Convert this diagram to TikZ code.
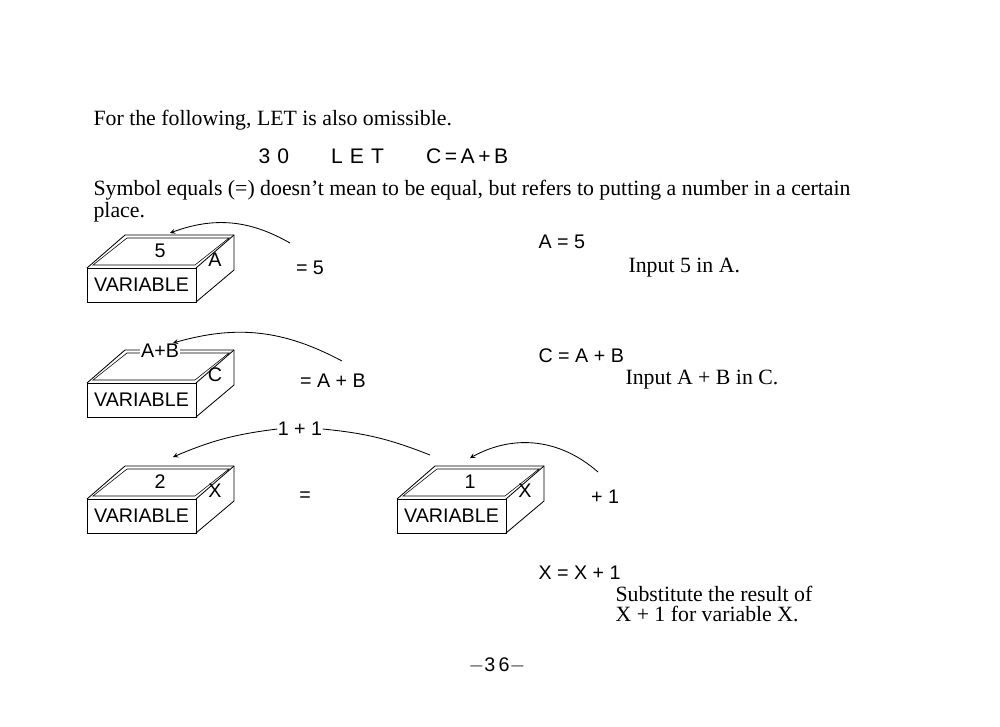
\documentclass[tikz,border=0pt]{standalone}
\usepackage{fontspec}
\setmainfont{Liberation Serif}
\setsansfont{Liberation Sans}
\usetikzlibrary{positioning}
\begin{document}
\begin{tikzpicture}[x=0.025cm,y=-0.025cm,>=stealth,thick,
  body/.style={font=\fontsize{15.5}{18}\selectfont,anchor=west,inner sep=0},
  lbl/.style={font=\sffamily\fontsize{14}{16}\selectfont,inner sep=0},
  curve/.style={->,semithick}]
\useasboundingbox (0,0) rectangle (1000,726);
% varbox: front rectangle top-left at given point, width 109, height 34
\tikzset{pics/varbox/.style args={#1/#2/#3}{code={
  \draw[semithick] (0,0) rectangle (109,34);
  \draw[semithick] (0,0) -- (38,-33) -- (147,-33) -- (147,2) -- (109,34);
  \draw[semithick] (109,0) -- (147,-33);
  \draw[thin] (6,-3) -- (40,-30) -- (142,-30) -- (108,-3) -- cycle;
  \node[lbl] (-var) at (54.5,17) {VARIABLE};
  \node[lbl] (-name) at (128,-8) {#2};
  \node[lbl,fill=white,inner sep=1pt] (-val) at (73,#3) {#1};
}}}
\node[body] (intro) at (93,120) {For the following, LET is also omissible.};
\node[lbl,anchor=west,font=\sffamily\fontsize{15}{17}\selectfont] (stmt) at (258,156) {3\,\,0\qquad L\,\,E\,\,T\qquad C\,=\,A\,+\,B};
\node[body] (sym1) at (93,190) {Symbol equals (=) doesn't mean to be equal, but refers to putting a number in a certain};
\node[body] (sym2) at (93,212) {place.};

\pic (ba) at (87,268) {varbox=5/A/-17};
\pic (bc) at (87,383) {varbox=A+B/C/-32};
\pic (bx) at (87,499) {varbox=2/X/-17};
\pic (by) at (397,499) {varbox=1/X/-17};

\node[lbl] (eq5) at (310,268) {= 5};
\node[lbl] (eqab) at (333,381) {= A + B};
\node[lbl] (eqx) at (305,497) {=};
\node[lbl] (plus1) at (605,497) {+ 1};
\node[lbl] (oneone) at (300,429) {1 + 1};

\coordinate (ta) at (170,233);
\coordinate (tc) at (173,343);
\coordinate (tx) at (173,457);
\coordinate (ty) at (470,458);
\draw[curve] (290,243) to[bend right=25] (ta);
\draw[curve] (342,361) to[bend right=22] (tc);
\draw[curve] (oneone.west) to[bend right=8] (tx);
\draw[semithick] (oneone.east) to[bend left=8] (430,455);
\draw[curve] (598,472) to[bend right=35] (ty);

\node[lbl,anchor=west] (ra) at (538,242) {A = 5};
\node[body] (ia) at (628,268) {Input 5 in A.};
\node[lbl,anchor=west] (rc) at (538,356) {C = A + B};
\node[body] (ic) at (625,380) {Input A + B in C.};
\node[lbl,anchor=west] (rx) at (538,573) {X = X + 1};
\node[body] (ix1) at (615,594) {Substitute the result of};
\node[body] (ix2) at (615,614) {X + 1 for variable X.};
\node[lbl] (page) at (497,665) {$-$3\,6$-$};
\end{tikzpicture}
\end{document}
